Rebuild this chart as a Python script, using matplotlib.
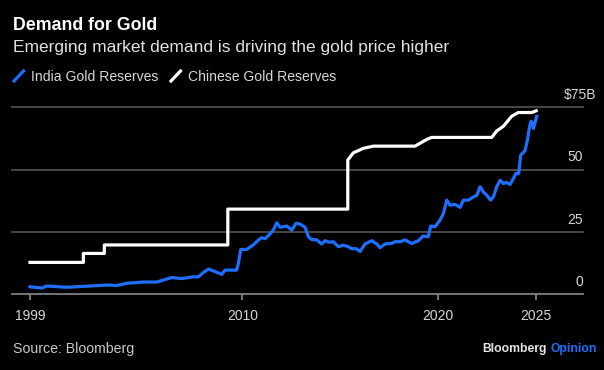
import matplotlib.pyplot as plt
from matplotlib.lines import Line2D

plt.rcParams['font.family'] = ['Liberation Sans', 'DejaVu Sans']

# Valores (anos decimais, bilhões de US$)
china_years = [1999.17, 2001.89, 2001.89, 2002.96, 2002.96, 2009.26, 2009.26,
               2015.38, 2015.38, 2015.66, 2016.17, 2016.68, 2018.81, 2019.41,
               2019.66, 2022.72, 2022.98, 2023.32, 2023.74, 2024.08, 2024.77,
               2024.99]
china_values = [12.7, 12.7, 16.3, 16.3, 19.7, 19.7, 34.1,
                34.1, 53.8, 56.7, 58.5, 59.4, 59.4, 62.1,
                62.9, 62.9, 65.5, 67.4, 71.4, 72.9, 72.9,
                73.6]

india_years = [1999.17, 1999.77, 2000.02, 2001.04, 2002.23, 2003.08, 2003.60,
               2004.10, 2004.95, 2005.63, 2005.97, 2006.40, 2006.91, 2007.50,
               2007.76, 2008.01, 2008.27, 2008.61, 2008.95, 2009.12, 2009.71,
               2009.80, 2009.92, 2010.22, 2010.56, 2010.82, 2010.99, 2011.16,
               2011.41, 2011.58, 2011.76, 2011.92, 2012.27, 2012.52, 2012.74,
               2012.94, 2013.20, 2013.37, 2013.54, 2013.80, 2014.05, 2014.22,
               2014.45, 2014.64, 2014.90, 2015.15, 2015.41, 2015.58, 2015.80,
               2016.01, 2016.26, 2016.60, 2016.86, 2017.03, 2017.28, 2017.62,
               2017.79, 2018.05, 2018.30, 2018.64, 2018.98, 2019.23, 2019.49,
               2019.61, 2019.83, 2020.09, 2020.26, 2020.43, 2020.60, 2020.85,
               2021.11, 2021.28, 2021.53, 2021.79, 2021.96, 2022.13, 2022.30,
               2022.47, 2022.67, 2022.81, 2022.98, 2023.15, 2023.32, 2023.49,
               2023.66, 2023.83, 2023.96, 2024.10, 2024.20, 2024.42, 2024.55,
               2024.65, 2024.72, 2024.77, 2024.85, 2025.02]
india_values = [2.9, 2.4, 3.2, 2.7, 3.2, 3.6, 3.4,
                4.3, 4.8, 4.8, 5.6, 6.6, 6.2, 6.9,
                6.9, 8.6, 10.0, 9.0, 7.9, 9.6, 9.6,
                12.3, 17.9, 17.9, 19.7, 21.7, 22.6, 22.2,
                24.1, 25.7, 28.6, 26.8, 27.3, 25.7, 28.4,
                28.1, 26.8, 23.0, 21.9, 21.7, 20.1, 21.4,
                20.8, 21.0, 19.0, 19.6, 19.0, 18.2, 18.2,
                17.1, 20.1, 21.4, 20.1, 18.6, 20.1, 20.3,
                21.0, 21.0, 21.7, 20.3, 21.4, 23.3, 23.0,
                27.3, 27.0, 29.7, 32.4, 37.7, 35.7, 36.0,
                34.8, 37.7, 37.7, 39.0, 39.6, 43.1, 41.0,
                39.7, 37.7, 39.0, 43.1, 45.7, 44.4, 44.8,
                44.0, 46.4, 48.4, 48.4, 55.8, 57.5, 62.0,
                67.0, 69.3, 69.1, 66.5, 71.4]

x_ticks = [1999.17, 2010, 2020, 2025]
x_labels = ['1999', '2010', '2020', '2025']
y_levels = [0, 25, 50, 75]
y_labels = ['0', '25', '50', '$75B']

BLUE = '#1f6fff'
GRID = '#545454'
AXIS = '#8a8a8a'
TEXT = '#d6d6d6'

W, H = 604, 370


def fx(px):
    return px / W


def fy(py):
    return 1 - py / H


fig = plt.figure(figsize=(W / 100, H / 100), dpi=100, facecolor='black')
ax = fig.add_axes([fx(12), fy(294), fx(583) - fx(12), fy(107.3) - fy(294)])
ax.set_facecolor('black')

ax.plot(india_years, india_values, color=BLUE, lw=2.3, solid_joinstyle='round')
ax.plot(china_years, china_values, color='white', lw=2.3, solid_joinstyle='round')

ax.set_xlim(1998.25, 2027.38)
ax.set_ylim(0, 75)

for level in y_levels[1:]:
    ax.axhline(level, color=GRID, lw=1.2, zorder=0, clip_on=False)

for s in ['top', 'left', 'right']:
    ax.spines[s].set_visible(False)
ax.spines['bottom'].set_color(AXIS)
ax.spines['bottom'].set_linewidth(1.2)

ax.set_yticks([])
ax.set_xticks(x_ticks)
ax.set_xticklabels(x_labels)
ax.tick_params(axis='x', colors=AXIS, length=4.5, width=1.2, pad=6.5,
               labelcolor=TEXT, labelsize=10)

for level, label in zip(y_levels, y_labels):
    dx = 9.5 if label.startswith('$') else 0
    ax.annotate(label, xy=(1, level), xycoords=ax.get_yaxis_transform(),
                xytext=(dx, 5.8), textcoords='offset points',
                ha='right', va='baseline', color=TEXT, fontsize=10)

fig.text(fx(12.5), fy(30), 'Demand for Gold', color='white', fontsize=12.8,
         fontweight='bold', va='baseline')
fig.text(fx(12.5), fy(51.7), 'Emerging market demand is driving the gold price higher',
         color='#e2e2e2', fontsize=12.5, va='baseline')

fig.add_artist(Line2D([fx(14), fx(23.5)], [fy(81), fy(71)], color=BLUE, lw=2.3,
                      transform=fig.transFigure))
fig.text(fx(31), fy(80.7), 'India Gold Reserves', color=TEXT, fontsize=10.1,
         va='baseline')
fig.add_artist(Line2D([fx(171), fx(180.5)], [fy(81), fy(71)], color='white', lw=2.3,
                      transform=fig.transFigure))
fig.text(fx(188), fy(80.7), 'Chinese Gold Reserves', color=TEXT, fontsize=10.1,
         va='baseline')

fig.text(fx(12.5), fy(353.3), 'Source: Bloomberg', color='#c8c8c8', fontsize=10.2,
         va='baseline')
fig.text(fx(597), fy(351.7), 'Opinion', color=BLUE, fontsize=8.7,
         fontweight='bold', ha='right', va='baseline')
fig.text(fx(546.5), fy(351.7), 'Bloomberg', color='#e6e6e6', fontsize=8.7,
         fontweight='bold', ha='right', va='baseline')

fig.savefig('out.png', dpi=100, facecolor='black')
